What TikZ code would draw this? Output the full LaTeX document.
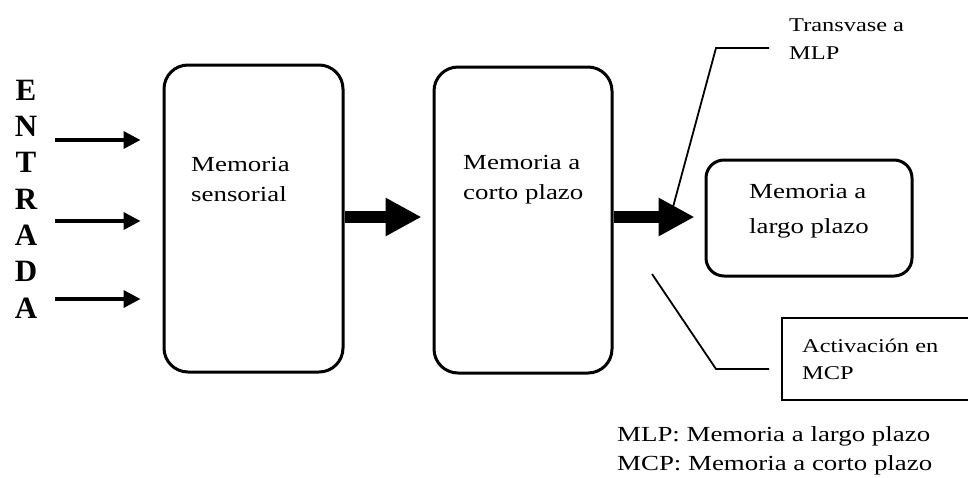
\documentclass[tikz,border=0pt]{standalone}
\usepackage{fontspec}
\setmainfont{Liberation Serif}
\newfontfamily\widefont[FakeStretch=1.25]{Liberation Serif}
\usetikzlibrary{arrows.meta}
\begin{document}
\begin{tikzpicture}[x=1pt,y=-1pt,
  membox/.style={draw,line width=3pt,rounded corners=24pt,inner sep=0pt},
  bigtext/.style={font=\widefont\fontsize{21.5}{30}\selectfont,align=left,inner sep=0pt,anchor=west},
  smalltext/.style={font=\widefont\fontsize{19.5}{28}\selectfont,align=left,inner sep=0pt,anchor=west},
  thinarrow/.style={line width=3.6pt,-{Triangle[length=17pt,width=17pt]}},
  thickarrow/.style={line width=12pt,-{Triangle[length=36pt,width=36pt]}},
  callout/.style={line width=1.8pt}]
\useasboundingbox (0,0) rectangle (968,477);

% boxes
\node[membox,minimum width=179pt,minimum height=307pt] (box1) at (253.5,218.5) {};
\node[membox,minimum width=178pt,minimum height=306pt] (box2) at (523,220) {};
\node[membox,rounded corners=18pt,minimum width=206pt,minimum height=116pt] (box3) at (809,218) {};
\node[draw,line width=2pt,minimum width=193pt,minimum height=82pt,inner sep=0pt] (box4) at (878.5,359) {};

% texts
\node[bigtext] (t1) at (191,179) {Memoria\\sensorial};
\node[bigtext] (t2) at (463,180) {Memoria a\\corto plazo};
\node[bigtext,font=\widefont\fontsize{21.5}{35}\selectfont] (t3) at (749,211) {Memoria a\\largo plazo};
\node[smalltext,font=\widefont\fontsize{19.5}{27}\selectfont] (t4) at (802,359) {Activación en\\MCP};
\node[smalltext,font=\widefont\fontsize{19.5}{28}\selectfont] (t5) at (789,39) {Transvase a\\MLP};
\node[font=\bfseries\fontsize{31}{36.3}\selectfont,align=center,inner sep=0pt] (entrada) at (26,199) {E\\N\\T\\R\\A\\D\\A};
\node[bigtext,font=\widefont\fontsize{21.5}{29}\selectfont] (legend) at (617,451) {MLP: Memoria a largo plazo\\MCP: Memoria a corto plazo};

% input arrows
\coordinate (in0) at (55,140);
\coordinate (in1) at (55,221);
\coordinate (in2) at (55,299);
\draw[thinarrow,shorten >=22pt] (in0) -- (box1.west |- in0);
\draw[thinarrow,shorten >=22pt] (in1) -- (box1.west |- in1);
\draw[thinarrow,shorten >=22pt] (in2) -- (box1.west |- in2);

% thick arrows
\coordinate (a1) at (0,217);
\draw[thickarrow,shorten >=11pt] (box1.east |- a1) -- (box2.west |- a1);
\draw[thickarrow,shorten >=10pt] (box2.east |- a1) -- (box3.west |- a1);

% callouts
\coordinate (c1a) at (769,48);
\coordinate (c1b) at (716,48);
\coordinate (c1c) at (673,207);
\draw[callout] (c1a) -- (c1b) -- (c1c);
\coordinate (c2a) at (652,274);
\coordinate (c2b) at (716,369);
\coordinate (c2c) at (769,369);
\draw[callout] (c2a) -- (c2b) -- (c2c);
\end{tikzpicture}
\end{document}
